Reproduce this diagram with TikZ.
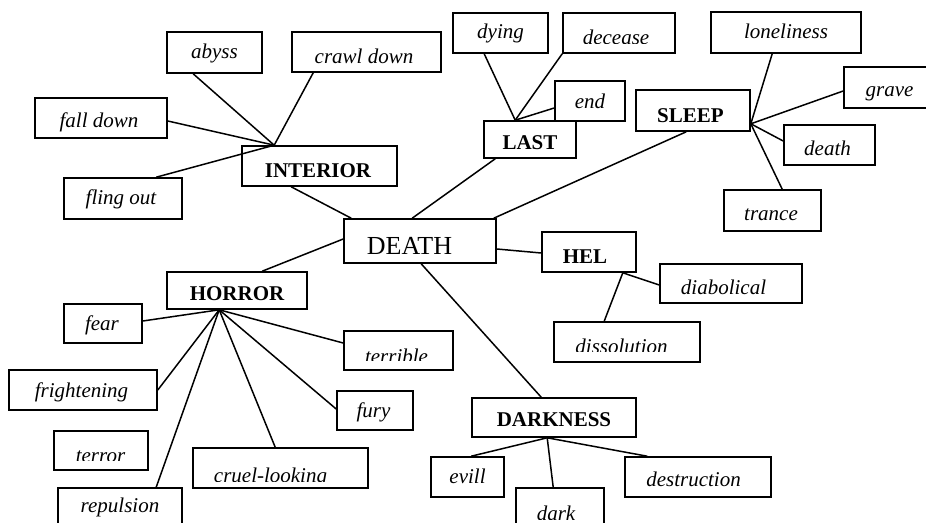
\documentclass[tikz,border=0pt]{standalone}
\usepackage{fontspec}
\setmainfont{Liberation Serif}
\begin{document}
\begin{tikzpicture}[x=1pt,y=-1pt,
  box/.style={draw, line width=1.6pt, inner sep=0pt, rectangle},
  lf/.style={font=\fontsize{21}{25}\selectfont\itshape, anchor=base, inner sep=0pt},
  hb/.style={font=\fontsize{21}{25}\selectfont\bfseries, anchor=base, inner sep=0pt},
  link/.style={line width=1.5pt}]
\useasboundingbox (0,0) rectangle (926,522);
\clip (0,0) rectangle (926,522);

% ---------- boxes ----------
\node[box, minimum width=95pt,  minimum height=41pt] (abyss)    at (214.5,52.5) {};
\node[box, minimum width=149pt, minimum height=40pt] (crawl)    at (366.5,52) {};
\node[box, minimum width=132pt, minimum height=40pt] (fall)     at (101,118) {};
\node[box, minimum width=155pt, minimum height=40pt] (interior) at (319.5,166) {};
\node[box, minimum width=118pt, minimum height=41pt] (fling)    at (123,198.5) {};
\node[box, minimum width=152pt, minimum height=44pt] (death)    at (420,241) {};
\node[box, minimum width=95pt,  minimum height=40pt] (dying)    at (500.5,33) {};
\node[box, minimum width=112pt, minimum height=40pt] (decease)  at (619,33) {};
\node[box, minimum width=70pt,  minimum height=40pt] (end)      at (590,101) {};
\node[box, minimum width=92pt,  minimum height=37pt] (last)     at (530,139.5) {};
\node[box, minimum width=114pt, minimum height=41pt] (sleep)    at (693,110.5) {};
\node[box, minimum width=150pt, minimum height=41pt] (lone)     at (786,32.5) {};
\node[box, minimum width=91pt,  minimum height=41pt] (grave)    at (889.5,87.5) {};
\node[box, minimum width=91pt,  minimum height=40pt] (deathl)   at (829.5,145) {};
\node[box, minimum width=97pt,  minimum height=41pt] (trance)   at (772.5,210.5) {};
\node[box, minimum width=94pt,  minimum height=40pt] (hel)      at (589,252) {};
\node[box, minimum width=142pt, minimum height=39pt] (diab)     at (731,283.5) {};
\node[box, minimum width=146pt, minimum height=40pt] (diss)     at (627,342) {};
\node[box, minimum width=164pt, minimum height=39pt] (darkness) at (554,417.5) {};
\node[box, minimum width=73pt,  minimum height=40pt] (evill)    at (467.5,477) {};
\node[box, minimum width=88pt,  minimum height=42pt] (darkl)    at (560,509) {};
\node[box, minimum width=146pt, minimum height=40pt] (destr)    at (698,477) {};
\node[box, minimum width=140pt, minimum height=37pt] (horror)   at (237,290.5) {};
\node[box, minimum width=78pt,  minimum height=39pt] (fear)     at (103,323.5) {};
\node[box, minimum width=148pt, minimum height=40pt] (fright)   at (83,390) {};
\node[box, minimum width=94pt,  minimum height=39pt] (terror)   at (101,450.5) {};
\node[box, minimum width=124pt, minimum height=42pt] (rep)      at (120,509) {};
\node[box, minimum width=175pt, minimum height=40pt] (cruel)    at (280.5,468) {};
\node[box, minimum width=109pt, minimum height=39pt] (terr)     at (398.5,350.5) {};
\node[box, minimum width=76pt,  minimum height=39pt] (fury)     at (375,410.5) {};

% ---------- texts ----------
\node[lf] (abyssT)  at (214.5,58) {abyss};
\node[lf] (crawlT)  at (364,63) {crawl down};
\node[lf] (fallT)   at (99,127.5) {fall down};
\node[hb] (interiorT) at (318,177) {INTERIOR};
\node[lf] (flingT)  at (121,204) {fling out};
\begin{scope}
  \clip (344,219) rectangle (496,253);
  \node[anchor=base, inner sep=0pt, font=\fontsize{26}{30}\selectfont] (deathT) at (409.5,254) {DEATH};
\end{scope}
\node[lf] (dyingT)  at (500.5,38.5) {dying};
\begin{scope}
  \clip (563,13) rectangle (675,43.5);
  \node[lf] (deceaseT) at (616,44) {decease};
\end{scope}
\node[lf] (endT)    at (590,108.5) {end};
\node[hb] (lastT)   at (530,149.5) {LAST};
\node[hb] (sleepT)  at (690.5,122) {SLEEP};
\node[lf] (loneT)   at (786,38.5) {loneliness};
\node[lf] (graveT)  at (889.5,96.5) {grave};
\node[lf] (deathlT) at (827.5,155.5) {death};
\node[lf] (tranceT) at (771,220) {trance};
\begin{scope}
  \clip (542,232) rectangle (636,262.5);
  \node[hb] (helT) at (585,263.5) {HEL};
\end{scope}
\node[lf] (diabT)   at (723.5,294) {diabolical};
\begin{scope}
  \clip (554,322) rectangle (700,351);
  \node[lf] (dissT) at (621.5,353) {dissolution};
\end{scope}
\node[hb] (darknessT) at (554,426.5) {DARKNESS};
\node[lf] (evillT)  at (467.5,483) {evill};
\begin{scope}
  \clip (516,488) rectangle (604,519);
  \node[lf] (darklT) at (556,520) {dark};
\end{scope}
\node[lf] (destrT)  at (693.5,486) {destruction};
\node[hb] (horrorT) at (237,300.5) {HORROR};
\node[lf] (fearT)   at (102,330) {fear};
\node[lf] (frightT) at (81.5,397) {frightening};
\begin{scope}
  \clip (54,431) rectangle (148,460);
  \node[lf] (terrorT) at (100.5,462) {terror};
\end{scope}
\node[lf] (repT)    at (120,512) {repulsion};
\begin{scope}
  \clip (193,448) rectangle (368,481.5);
  \node[lf] (cruelT) at (270.5,482.5) {cruel-looking};
\end{scope}
\begin{scope}
  \clip (344,331) rectangle (453,360.5);
  \node[lf] (terrT) at (396.5,363.5) {terrible};
\end{scope}
\node[lf] (furyT)   at (373.5,417) {fury};

% ---------- connectors ----------
% INTERIOR
\coordinate (hubI) at ([xshift=33pt]interior.north west);
\draw[link] ([xshift=27pt]abyss.south west) -- (hubI);
\draw[link] ([xshift=22pt]crawl.south west) -- (hubI);
\draw[link] ([yshift=-3pt]fall.east) -- (hubI);
\draw[link] ([xshift=93pt]fling.north west) -- (hubI);
\draw[link] ([xshift=50pt]interior.south west) -- ([xshift=8pt]death.north west);
% LAST
\coordinate (hubL) at ([xshift=32pt]last.north west);
\draw[link] ([xshift=32pt]dying.south west) -- (hubL);
\draw[link] (decease.south west) -- (hubL);
\draw[link] ([yshift=-7pt]end.west) -- (hubL);
\draw[link] ([xshift=12pt]last.south west) -- ([xshift=69pt]death.north west);
% SLEEP
\coordinate (hubS) at ([yshift=8pt]sleep.south east);
\draw[link] ([xshift=62pt]lone.south west) -- (hubS);
\draw[link] ([yshift=-3.5pt]grave.west) -- (hubS);
\draw[link] ([yshift=4pt]deathl.west) -- (hubS);
\draw[link] ([xshift=59pt]trance.north west) -- (hubS);
\draw[link] ([xshift=51pt]sleep.south west) -- ([xshift=-3pt]death.north east);
% HEL
\draw[link] ([yshift=-8pt]death.east) -- ([yshift=-1pt]hel.west);
\coordinate (hubH) at ([xshift=-14pt]hel.south east);
\draw[link] ([yshift=-1.5pt]diab.west) -- (hubH);
\draw[link] ([xshift=51pt]diss.north west) -- (hubH);
% DARKNESS
\draw[link] ([xshift=78pt]death.south west) -- ([xshift=70pt]darkness.north west);
\coordinate (hubD) at ([xshift=76pt]darkness.south west);
\draw[link] ([xshift=41pt]evill.north west) -- (hubD);
\draw[link] ([xshift=38pt]darkl.north west) -- (hubD);
\draw[link] ([xshift=23pt]destr.north west) -- (hubD);
% HORROR
\draw[link] ([yshift=2pt]death.west) -- ([xshift=96pt]horror.north west);
\coordinate (hubR) at ([xshift=53pt]horror.south west);
\draw[link] ([yshift=2.5pt]fear.east) -- (hubR);
\draw[link] (fright.east) -- (hubR);
\draw[link] ([xshift=99pt]rep.north west) -- (hubR);
\draw[link] ([xshift=83pt]cruel.north west) -- (hubR);
\draw[link] ([yshift=7.5pt]terr.west) -- (hubR);
\draw[link] ([yshift=1.5pt]fury.west) -- (hubR);
\end{tikzpicture}
\end{document}
